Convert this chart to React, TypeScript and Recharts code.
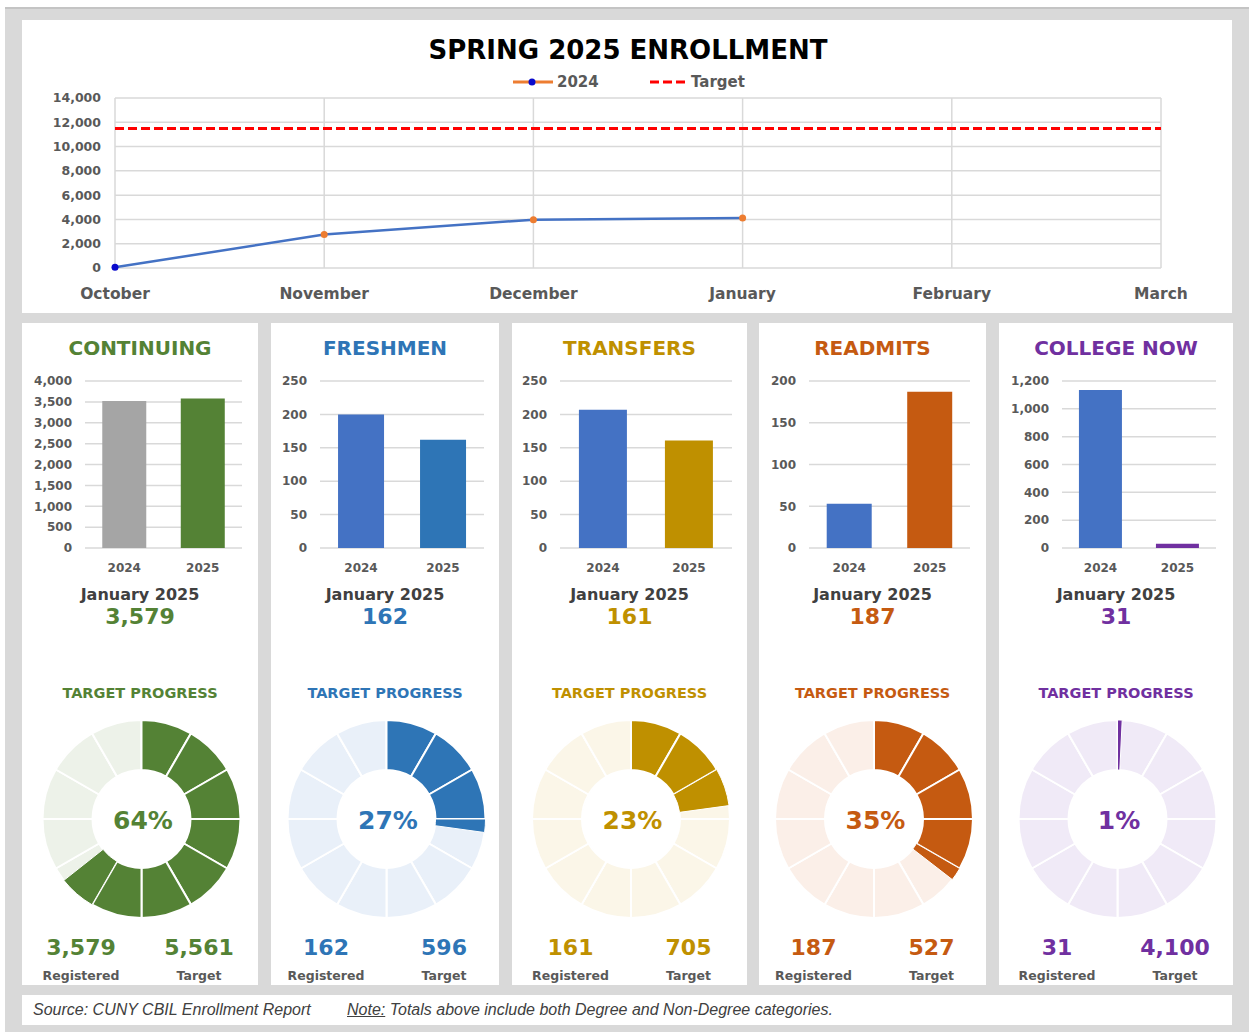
import React from "react";
import {
  LineChart,
  Line,
  XAxis,
  YAxis,
  CartesianGrid,
  ReferenceLine,
  BarChart,
  Bar,
  Cell,
  PieChart,
  Pie,
} from "recharts";

// ---------- DATA ----------
const months = ["October", "November", "December", "January", "February", "March"];
const enrollment2024: (number | null)[] = [60, 2750, 3980, 4120, null, null];
const enrollmentTarget = 11489;
const lineTicks = [0, 2000, 4000, 6000, 8000, 10000, 12000, 14000];

const programs = ["CONTINUING", "FRESHMEN", "TRANSFERS", "READMITS", "COLLEGE NOW"];
const barYears = ["2024", "2025"];
const registered2024 = [3520, 200, 207, 53, 1135];
const registered2025 = [3579, 162, 161, 187, 31];
const programTargets = [5561, 596, 705, 527, 4100];
const barTicks = [
  [0, 500, 1000, 1500, 2000, 2500, 3000, 3500, 4000],
  [0, 50, 100, 150, 200, 250],
  [0, 50, 100, 150, 200, 250],
  [0, 50, 100, 150, 200],
  [0, 200, 400, 600, 800, 1000, 1200],
];
const reportMonth = "January 2025";
const SEGMENTS = 12;

// ---------- STYLE ----------
const FONT = "'DejaVu Sans', Arial, sans-serif";
const GRAY = "#595959";
const DARK = "#404040";
const accent = ["#548235", "#2e75b6", "#bf9000", "#c55a11", "#7030a0"];
const bar2024Color = ["#a5a5a5", "#4472c4", "#4472c4", "#4472c4", "#4472c4"];
const ringBg = ["#edf2e9", "#e9f0f9", "#fbf6e8", "#fbefe8", "#f0eaf7"];
const panelLeft = [22, 271, 512, 759, 999];
const panelWidth = [236, 228, 235, 227, 234];
const yAxisWidth = [63, 49, 48, 50, 63];
const rightMargin = [16, 15, 15, 16, 17];
const dotColors = ["#0a0acc", "#ed7d31", "#ed7d31", "#ed7d31", "#ed7d31", "#ed7d31"];

const fmt = (v: number) => v.toLocaleString("en-US");

const CenterText = ({ cx, cy, size, color, children }: any) => (
  <div
    style={{
      position: "absolute",
      left: cx - 200,
      top: cy - size,
      width: 400,
      height: size * 2,
      lineHeight: `${size * 2}px`,
      textAlign: "center",
      fontFamily: FONT,
      fontSize: size,
      fontWeight: "bold",
      color,
      whiteSpace: "nowrap",
    }}
  >
    {children}
  </div>
);

function ringData(reg: number, tgt: number) {
  const filled = Math.min(reg / tgt, 1) * SEGMENTS;
  const full = Math.floor(filled);
  const rows: { name: string; value: number; on: boolean }[] = [];
  for (let k = 0; k < full; k++) rows.push({ name: `f${k}`, value: 1, on: true });
  const part = filled - full;
  if (part > 0) rows.push({ name: "part", value: part, on: true });
  if (SEGMENTS - filled > 0) rows.push({ name: "rest", value: SEGMENTS - filled, on: false });
  return rows;
}

const bgRing = Array.from({ length: SEGMENTS }, (_, k) => ({ name: `b${k}`, value: 1 }));

function Panel({ i }: { i: number }) {
  const left = panelLeft[i];
  const w = panelWidth[i];
  const cx = left + w / 2;
  const rows = barYears.map((y, k) => ({
    year: y,
    value: k === 0 ? registered2024[i] : registered2025[i],
  }));
  const ticks = barTicks[i];
  const ring = ringData(registered2025[i], programTargets[i]);
  const pct = Math.round((registered2025[i] / programTargets[i]) * 100);
  const tickStyle = { fontFamily: FONT, fontSize: 12, fontWeight: "bold", fill: GRAY };
  return (
    <>
      <div style={{ position: "absolute", left, top: 323, width: w, height: 662, background: "#fff" }} />
      <CenterText cx={cx} cy={348} size={20} color={accent[i]}>
        {programs[i]}
      </CenterText>
      <div style={{ position: "absolute", left, top: 370 }}>
        <BarChart
          width={w}
          height={210}
          data={rows}
          margin={{ top: 11, right: rightMargin[i], left: 0, bottom: 0 }}
          barCategoryGap="22%"
        >
          <CartesianGrid vertical={false} stroke="#d9d9d9" strokeWidth={1.5} />
          <XAxis
            dataKey="year"
            axisLine={false}
            tickLine={false}
            height={32}
            tickMargin={9}
            interval={0}
            tick={tickStyle}
          />
          <YAxis
            width={yAxisWidth[i]}
            axisLine={false}
            tickLine={false}
            domain={[0, ticks[ticks.length - 1]]}
            ticks={ticks}
            interval={0}
            tickMargin={7}
            tick={tickStyle}
            tickFormatter={fmt}
          />
          <Bar dataKey="value" isAnimationActive={false}>
            {rows.map((r, k) => (
              <Cell key={r.year} fill={k === 0 ? bar2024Color[i] : accent[i]} />
            ))}
          </Bar>
        </BarChart>
      </div>
      <CenterText cx={cx} cy={595} size={16} color={DARK}>
        {reportMonth}
      </CenterText>
      <CenterText cx={cx} cy={617} size={22} color={accent[i]}>
        {fmt(registered2025[i])}
      </CenterText>
      <CenterText cx={cx} cy={693} size={14.5} color={accent[i]}>
        TARGET PROGRESS
      </CenterText>
      <div style={{ position: "absolute", left, top: 709 }}>
        <PieChart width={w} height={220} margin={{ top: 0, right: 0, bottom: 0, left: 0 }}>
          <Pie
            data={bgRing}
            dataKey="value"
            cx={w / 2 + 1.5}
            cy={110}
            innerRadius={49}
            outerRadius={99}
            startAngle={90}
            endAngle={-270}
            isAnimationActive={false}
            stroke="#ffffff"
            strokeWidth={2}
          >
            {bgRing.map((r) => (
              <Cell key={r.name} fill={ringBg[i]} />
            ))}
          </Pie>
          <Pie
            data={ring}
            dataKey="value"
            cx={w / 2 + 1.5}
            cy={110}
            innerRadius={49}
            outerRadius={99}
            startAngle={90}
            endAngle={-270}
            isAnimationActive={false}
          >
            {ring.map((r) => (
              <Cell
                key={r.name}
                fill={r.on ? accent[i] : "transparent"}
                stroke={r.on ? "#ffffff" : "none"}
                strokeWidth={r.name === "part" ? 1 : 2}
              />
            ))}
          </Pie>
        </PieChart>
      </div>
      <CenterText cx={cx + 3} cy={821} size={25} color={accent[i]}>
        {pct}%
      </CenterText>
      <CenterText cx={cx - 59} cy={948} size={22} color={accent[i]}>
        {fmt(registered2025[i])}
      </CenterText>
      <CenterText cx={cx + 59} cy={948} size={22} color={accent[i]}>
        {fmt(programTargets[i])}
      </CenterText>
      <CenterText cx={cx - 59} cy={975} size={12.5} color={GRAY}>
        Registered
      </CenterText>
      <CenterText cx={cx + 59} cy={975} size={12.5} color={GRAY}>
        Target
      </CenterText>
    </>
  );
}

export default function App() {
  const lineData = months.map((m, k) => ({ month: m, v2024: enrollment2024[k] }));
  const renderDot = (p: any) => {
    if (p.value == null || p.cy == null) return <g key={`d${p.index}`} />;
    return <circle key={`d${p.index}`} cx={p.cx} cy={p.cy} r={3.5} fill={dotColors[p.index]} stroke="none" />;
  };
  const footStyle: React.CSSProperties = {
    position: "absolute",
    top: 1000,
    height: 20,
    lineHeight: "20px",
    fontFamily: "'Liberation Sans', Arial, sans-serif",
    fontStyle: "italic",
    fontSize: 16,
    color: DARK,
    whiteSpace: "nowrap",
  };
  return (
    <div
      style={{
        position: "absolute",
        left: 0,
        top: 0,
        width: 1249,
        height: 1032,
        background: "#fff",
        overflow: "hidden",
      }}
    >
      <div
        style={{
          position: "absolute",
          left: 5,
          top: 7,
          width: 1244,
          height: 1025,
          background: "#d9d9d9",
          borderTop: "2px solid #c4c4c4",
          boxSizing: "border-box",
        }}
      />
      {/* top panel */}
      <div style={{ position: "absolute", left: 22, top: 20, width: 1210, height: 293, background: "#fff" }} />
      <CenterText cx={628} cy={50} size={26} color="#000">
        SPRING 2025 ENROLLMENT
      </CenterText>
      {/* legend */}
      <svg style={{ position: "absolute", left: 510, top: 75 }} width={46} height={14}>
        <line x1={3} y1={7} x2={43} y2={7} stroke="#ed7d31" strokeWidth={3} />
        <circle cx={22} cy={7} r={3.5} fill="#0a0acc" />
      </svg>
      <div
        style={{
          position: "absolute",
          left: 557,
          top: 72,
          height: 20,
          lineHeight: "20px",
          fontFamily: FONT,
          fontSize: 15,
          fontWeight: "bold",
          color: GRAY,
        }}
      >
        2024
      </div>
      <svg style={{ position: "absolute", left: 650, top: 75 }} width={36} height={14}>
        <line x1={0} y1={7} x2={35} y2={7} stroke="#ff0000" strokeWidth={3} strokeDasharray="9 4" />
      </svg>
      <div
        style={{
          position: "absolute",
          left: 691,
          top: 72,
          height: 20,
          lineHeight: "20px",
          fontFamily: FONT,
          fontSize: 15,
          fontWeight: "bold",
          color: GRAY,
        }}
      >
        Target
      </div>
      <div style={{ position: "absolute", left: 22, top: 20 }}>
        <LineChart width={1210} height={293} data={lineData} margin={{ top: 78, right: 71, left: 0, bottom: 0 }}>
          <CartesianGrid stroke="#d9d9d9" strokeWidth={1.5} />
          <XAxis
            dataKey="month"
            axisLine={false}
            tickLine={false}
            height={45}
            tickMargin={14}
            interval={0}
            padding={{ left: 0, right: 0 }}
            tick={{ fontFamily: FONT, fontSize: 15.5, fontWeight: "bold", fill: GRAY }}
          />
          <YAxis
            width={93}
            axisLine={false}
            tickLine={false}
            domain={[0, 14000]}
            ticks={lineTicks}
            interval={0}
            tickMargin={8}
            tickFormatter={fmt}
            tick={{ fontFamily: FONT, fontSize: 12.5, fontWeight: "bold", fill: GRAY }}
          />
          <ReferenceLine y={enrollmentTarget} stroke="#ff0000" strokeWidth={3} strokeDasharray="9 4" />
          <Line
            type="linear"
            dataKey="v2024"
            stroke="#4472c4"
            strokeWidth={2.5}
            dot={renderDot}
            activeDot={false}
            connectNulls={false}
            isAnimationActive={false}
          />
        </LineChart>
      </div>
      {programs.map((_, i) => (
        <Panel key={i} i={i} />
      ))}
      {/* footer */}
      <div style={{ position: "absolute", left: 22, top: 995, width: 1210, height: 30, background: "#fff" }} />
      <div style={{ ...footStyle, left: 33 }}>Source: CUNY CBIL Enrollment Report</div>
      <div style={{ ...footStyle, left: 347 }}>
        <span style={{ textDecoration: "underline" }}>Note:</span> Totals above include both Degree and Non-Degree
        categories.
      </div>
    </div>
  );
}
